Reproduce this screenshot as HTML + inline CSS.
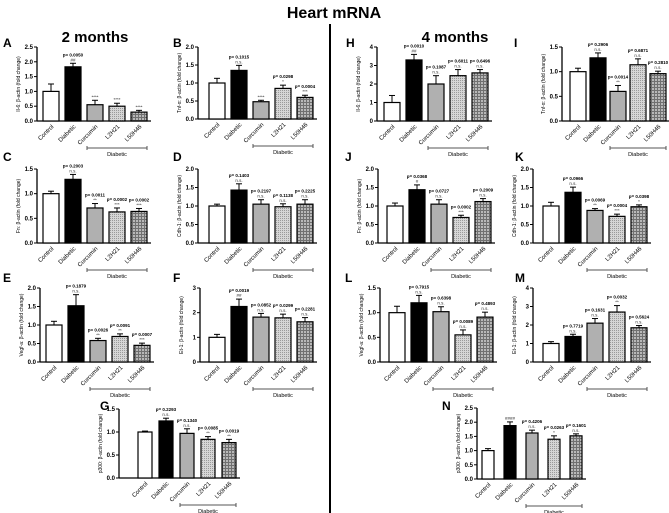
<!DOCTYPE html>
<html><head><meta charset="utf-8"><style>
html,body{margin:0;padding:0;background:#fff;}
svg{display:block;font-family:"Liberation Sans",Arial,sans-serif;}
</style></head><body>
<svg id="fig" width="669" height="513" viewBox="0 0 669 513" xmlns="http://www.w3.org/2000/svg">
<defs>
<pattern id="dots" width="2" height="2" patternUnits="userSpaceOnUse"><rect width="2" height="2" fill="#d6d6d6"/><rect width="1" height="1" fill="#9a9a9a"/></pattern>
<pattern id="check" width="3" height="3" patternUnits="userSpaceOnUse"><rect width="3" height="3" fill="#b8b8b8"/><rect width="3" height="1" fill="#707070"/><rect width="1" height="3" fill="#707070"/></pattern>
</defs>
<text x="334" y="18" text-anchor="middle" font-size="16" font-weight="bold">Heart mRNA</text>
<text x="95" y="42" text-anchor="middle" font-size="15" font-weight="bold">2 months</text>
<text x="455" y="42" text-anchor="middle" font-size="15" font-weight="bold">4 months</text>
<line x1="330" y1="24" x2="330" y2="513" stroke="#000" stroke-width="2"/>
</svg>
<script>
const cats=["Control","Diabetic","Curcumin","L2H21","L50H46"];
const valsA=[1.0,1.83,0.55,0.5,0.3];const errA=[0.25,0.12,0.15,0.1,0.06];
const annA=["","p= 0.0050|##","|****","|****","|****"];
const valsB=[1.0,1.35,0.48,0.85,0.6];const errB=[0.13,0.14,0.04,0.09,0.06];
const annB=["","p= 0.1015|n.s.","|****","p= 0.0298|*","p= 0.0004|***"];
const valsC=[1.0,1.29,0.71,0.63,0.64];const errC=[0.05,0.1,0.09,0.08,0.06];
const annC=["","p= 0.2003|n.s.","p= 0.0011|**","p= 0.0002|***","p= 0.0002|***"];
const valsD=[1.0,1.43,1.05,0.98,1.05];const errD=[0.05,0.17,0.12,0.08,0.12];
const annD=["","p= 0.1403|n.s.","p= 0.2197|n.s.","p= 0.1138|n.s.","p= 0.2225|n.s."];
const valsE=[1.0,1.52,0.58,0.69,0.45];const errE=[0.1,0.3,0.06,0.07,0.06];
const annE=["","p= 0.1879|n.s.","p= 0.0026|**","p= 0.0091|**","p= 0.0007|***"];
const valsF=[1.0,2.25,1.82,1.79,1.63];const errF=[0.12,0.3,0.15,0.15,0.17];
const annF=["","p= 0.0019|##","p= 0.0852|n.s.","p= 0.0299|n.s.","p= 0.2281|n.s."];
const valsG=[1.0,1.24,0.97,0.84,0.77];const errG=[0.02,0.06,0.1,0.06,0.07];
const annG=["","p= 0.2293|n.s.","p= 0.1340|n.s.","p= 0.0085|**","p= 0.0019|**"];
const valsH=[1.0,3.3,2.0,2.45,2.6];const errH=[0.38,0.3,0.45,0.33,0.18];
const annH=["","p= 0.0010|##","p= 0.1087|n.s.","p= 0.6011|n.s.","p= 0.6496|n.s."];
const valsI=[1.0,1.28,0.6,1.14,0.96];const errI=[0.07,0.1,0.12,0.12,0.05];
const annI=["","p= 0.2906|n.s.","p= 0.0014|**","p= 0.6871|n.s.","p= 0.2810|n.s."];
const valsJ=[1.0,1.44,1.05,0.69,1.12];const errJ=[0.08,0.13,0.12,0.06,0.08];
const annJ=["","p= 0.0368|#","p= 0.0727|n.s.","p= 0.0002|***","p= 0.2009|n.s."];
const valsK=[1.0,1.37,0.88,0.72,0.98];const errK=[0.1,0.14,0.05,0.06,0.05];
const annK=["","p= 0.0966|n.s.","p= 0.0069|**","p= 0.0004|***","p= 0.0398|*"];
const valsL=[1.0,1.2,1.02,0.55,0.91];const errL=[0.13,0.15,0.1,0.1,0.1];
const annL=["","p= 0.7915|n.s.","p= 0.6398|n.s.","p= 0.0089|n.s.","p= 0.4893|n.s."];
const valsM=[1.0,1.38,2.1,2.7,1.85];const errM=[0.1,0.12,0.25,0.35,0.12];
const annM=["","p= 0.7719|n.s.","p= 0.1631|n.s.","p= 0.0032|**","p= 0.5624|n.s."];
const valsN=[1.0,1.88,1.62,1.4,1.52];const errN=[0.07,0.13,0.1,0.12,0.07];
const annN=["","|####","p= 0.4206|n.s.","p= 0.0263|*","p= 0.1601|n.s."];

const fills=["#fff","#000","#b0b0b0","url(#dots)","url(#check)"];
const NS="http://www.w3.org/2000/svg";
const svg=document.getElementById('fig');
function mk(tag,attrs,parent){const e=document.createElementNS(NS,tag);for(const k in attrs)e.setAttribute(k,attrs[k]);(parent||svg).appendChild(e);return e;}

const panels=[
 {id:"A",lx:3,ly:47,ax:37,top:47,bot:121,ymax:2.5,step:0.5,vals:valsA,errs:errA,ann:annA,t:"Il-6: β-actin (fold change)",bw:16,pitch:22,off:14},
 {id:"B",lx:173,ly:47,ax:198,top:47,bot:119,ymax:2.0,step:0.5,vals:valsB,errs:errB,ann:annB,t:"Tnf-α: β-actin (fold change)",bw:16,pitch:22,off:19},
 {id:"C",lx:3,ly:161,ax:37,top:169,bot:243,ymax:1.5,step:0.5,vals:valsC,errs:errC,ann:annC,t:"Fn: β-actin (fold change)",bw:16,pitch:22,off:14},
 {id:"D",lx:173,ly:161,ax:198,top:169,bot:243,ymax:2.0,step:0.5,vals:valsD,errs:errD,ann:annD,t:"Cdh-1: β-actin (fold change)",bw:16,pitch:22,off:19},
 {id:"E",lx:3,ly:282,ax:40,top:288,bot:362,ymax:2.0,step:0.5,vals:valsE,errs:errE,ann:annE,t:"Vegf-a: β-actin (fold change)",bw:16,pitch:22,off:14},
 {id:"F",lx:173,ly:282,ax:200,top:288,bot:362,ymax:3,step:1,vals:valsF,errs:errF,ann:annF,t:"Et-1: β-actin (fold change)",bw:16,pitch:22,off:17},
 {id:"G",lx:100,ly:410,ax:119,top:409,bot:478,ymax:1.5,step:0.5,vals:valsG,errs:errG,ann:annG,t:"p300: β-actin (fold change)",bw:14,pitch:21,off:26},
 {id:"H",lx:346,ly:47,ax:377,top:47,bot:121,ymax:4,step:1,vals:valsH,errs:errH,ann:annH,t:"Il-6: β-actin (fold change)",bw:16,pitch:22,off:15},
 {id:"I",lx:514,ly:47,ax:562,top:47,bot:121,ymax:1.5,step:0.5,vals:valsI,errs:errI,ann:annI,t:"Tnf-α: β-actin (fold change)",bw:16,pitch:20,off:16},
 {id:"J",lx:345,ly:161,ax:378,top:169,bot:243,ymax:2.0,step:0.5,vals:valsJ,errs:errJ,ann:annJ,t:"Fn: β-actin (fold change)",bw:16,pitch:22,off:17},
 {id:"K",lx:515,ly:161,ax:533,top:169,bot:243,ymax:2.0,step:0.5,vals:valsK,errs:errK,ann:annK,t:"Cdh-1: β-actin (fold change)",bw:16,pitch:22,off:18},
 {id:"L",lx:345,ly:282,ax:380,top:288,bot:362,ymax:1.5,step:0.5,vals:valsL,errs:errL,ann:annL,t:"Vegf-a: β-actin (fold change)",bw:16,pitch:22,off:17},
 {id:"M",lx:515,ly:282,ax:533,top:288,bot:362,ymax:4,step:1,vals:valsM,errs:errM,ann:annM,t:"Et-1: β-actin (fold change)",bw:16,pitch:22,off:18},
 {id:"N",lx:442,ly:410,ax:477,top:408,bot:479,ymax:2.5,step:0.5,vals:valsN,errs:errN,ann:annN,t:"p300: β-actin (fold change)",bw:12,pitch:22,off:11}
];

panels.forEach(p=>{
 const g=mk('g',{});
 
 
 const y=v=>p.bot-(v/p.ymax)*(p.bot-p.top);
 const cx=i=>p.ax+p.off+i*p.pitch;
 const lt=mk('text',{x:p.lx,y:p.ly,'font-size':12,'font-weight':'bold'},g);lt.textContent=p.id;
 
 
 const xend=cx(4)+p.bw/2+4;
 const ya=mk('line',{x1:p.ax,y1:p.top,x2:p.ax,y2:p.bot,stroke:'#000','stroke-width':1.3},g);
 
 
 const xa=mk('line',{x1:p.ax,y1:p.bot,x2:xend,y2:p.bot,stroke:'#000','stroke-width':1.3},g);
 
 
 for(let v=0;v<=p.ymax+1e-9;v+=p.step){
  mk('line',{x1:p.ax-3,y1:y(v),x2:p.ax,y2:y(v),stroke:'#000','stroke-width':1},g);
  const t=mk('text',{x:p.ax-4,y:y(v)+2,'font-size':6,'font-weight':'bold','text-anchor':'end'},g);
  t.textContent=p.step<1?v.toFixed(1):String(Math.round(v));
  
  
 }
 const ttl=mk('text',{x:0,y:0,'font-size':5,'text-anchor':'middle',transform:`translate(${p.ax-17},${(p.top+p.bot)/2}) rotate(-90)`},g);
 ttl.textContent=p.t;
 
 
 p.vals.forEach((v,i)=>{
  const c=cx(i);
  const eTop=y(v+p.errs[i]);
  mk('line',{x1:c,y1:y(v),x2:c,y2:eTop,stroke:'#000','stroke-width':1},g);
  mk('line',{x1:c-3,y1:eTop,x2:c+3,y2:eTop,stroke:'#000','stroke-width':1},g);
  const b=mk('rect',{x:c-p.bw/2,y:y(v),width:p.bw,height:p.bot-y(v),fill:fills[i],stroke:'#000','stroke-width':1.2},g);
  
  
  const parts=p.ann[i].split('|');
  if(parts[1]){const s=mk('text',{x:c,y:eTop-2,'font-size':4.5,'text-anchor':'middle',fill:'#333'},g);s.textContent=parts[1];
   
   }
  if(parts[0]){const s=mk('text',{x:c,y:eTop-7,'font-size':4.5,'text-anchor':'middle','font-weight':'bold'},g);s.textContent=parts[0];
   
   }
  const xl=mk('text',{x:0,y:0,'font-size':6,'text-anchor':'end',transform:`translate(${c+3},${p.bot+6}) rotate(-45)`},g);
  xl.textContent=cats[i];
  
  
 });
 const bx1=cx(2)-p.bw/2,bx2=cx(4)+p.bw/2,by=p.bot+27;
 const br=mk('path',{d:`M${bx1},${by-2}V${by+2}M${bx1},${by}H${bx2}M${bx2},${by-2}V${by+2}`,stroke:'#555','stroke-width':1,fill:'none'},g);
 
 
 const bt=mk('text',{x:(bx1+bx2)/2,y:by+8,'font-size':5.5,'text-anchor':'middle'},g);
 bt.textContent="Diabetic";
 
 
});
</script>
</body></html>
